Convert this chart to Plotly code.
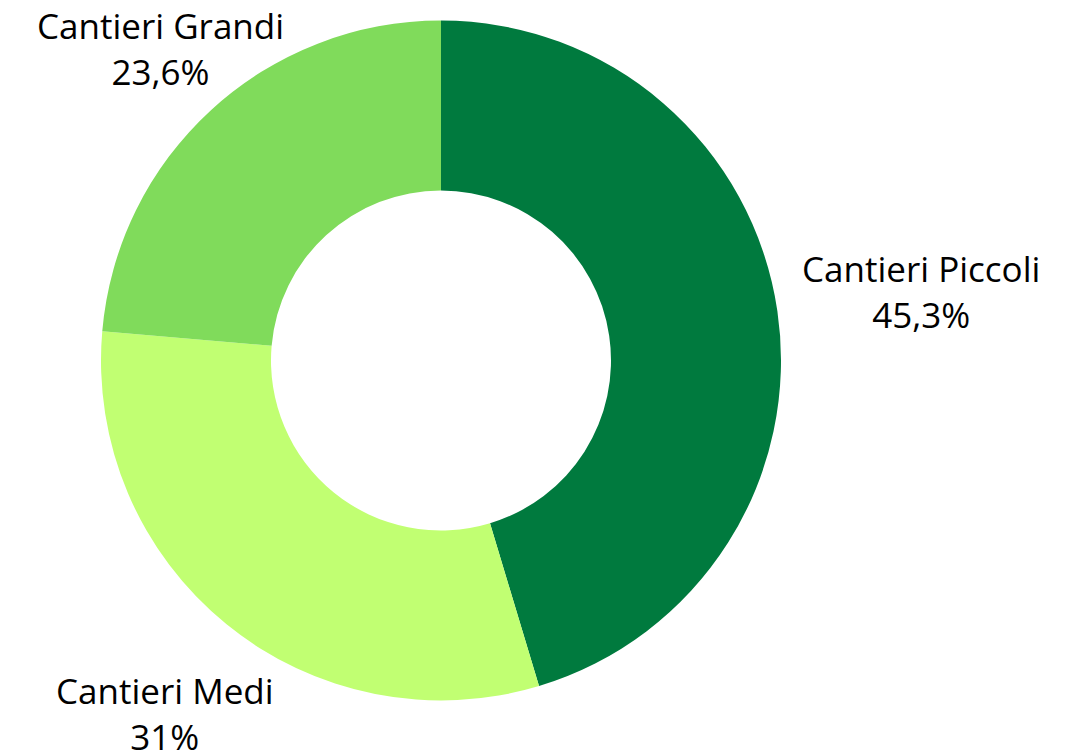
import plotly.graph_objects as go

labels = ["Cantieri Piccoli", "Cantieri Medi", "Cantieri Grandi"]
values = [45.3, 31.0, 23.6]
value_text = ["45,3%", "31%", "23,6%"]
colors = ["#007A3E", "#C1FF72", "#80DB5B"]

fig = go.Figure()
fig.add_trace(go.Pie(
    labels=labels, values=values, hole=0.5, sort=False,
    direction="clockwise", rotation=0,
    marker=dict(colors=colors, line=dict(width=0)),
    textinfo="none", hoverinfo="label+percent", showlegend=False,
    domain=dict(x=[93/1075, 773/1075], y=[1-692.5/752, 1-12.5/752]),
))

label_pos = [(913, 283), (157, 705), (152, 40)]
for (lx, ly), lab, vt in zip(label_pos, labels, value_text):
    fig.add_annotation(
        x=lx/1075, y=1-ly/752, xref="paper", yref="paper",
        text=f"{lab}<br>{vt}", showarrow=False, align="center",
        xanchor="center", yanchor="middle",
        font=dict(family="Open Sans", size=35, color="#000000"),
    )

fig.update_layout(
    width=1075, height=752, margin=dict(l=0, r=0, t=0, b=0),
    paper_bgcolor="white", plot_bgcolor="white",
)
fig.write_html("out.html")
